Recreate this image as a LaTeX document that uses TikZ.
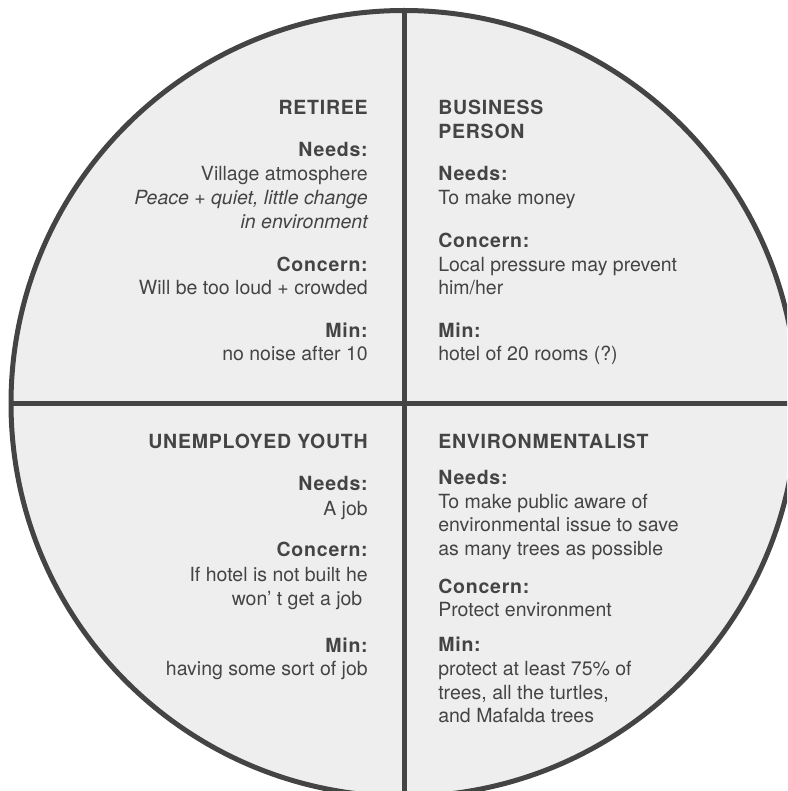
\documentclass[tikz,border=0pt]{standalone}
\usepackage{fontspec}
\setmainfont{TeX Gyre Heros}
% bold labels and headings are set with slightly open tracking
\newfontfamily\trackedfont{TeX Gyre Heros}[LetterSpace=4.0]
\definecolor{ink}{HTML}{444444}
\definecolor{paper}{HTML}{EEEEEE}
\begin{document}
\begin{tikzpicture}[x=1pt,y=-1pt,
  every node/.style={inner sep=0pt, outer sep=0pt, text=ink,
    font=\fontsize{19.5}{24}\selectfont},
  boldtxt/.style={font=\fontsize{19.5}{24}\selectfont\trackedfont\bfseries},
  plaintxt/.style={},
  itxt/.style={font=\fontsize{19.5}{24}\selectfont\itshape},
  divider/.style={draw=ink, line width=5pt}]
\useasboundingbox (0,0) rectangle (787,791);
\clip (0,0) rectangle (787,791);

% the disc and its four quarters
\coordinate (c) at (404,403.5);
\filldraw[fill=paper, divider] (c) circle[radius=393];
\draw[divider] (c) ++(0,-393) coordinate (top) -- ++(0,786) coordinate (bottom);
\draw[divider] (c) ++(-393,0) coordinate (left) -- ++(786,0) coordinate (right);

% upper left: retiree
\foreach \y/\s/\t [count=\i] in {
  114.7/boldtxt/{RETIREE},
  156.7/boldtxt/{Needs:},
  180.7/plaintxt/{Village atmosphere},
  204.3/itxt/{Peace + quiet, little change},
  228.3/itxt/{in environment},
  271.0/boldtxt/{Concern:},
  294.3/plaintxt/{Will be too loud + crowded},
  337.3/boldtxt/{Min:},
  360.3/plaintxt/{no noise after 10}}
  \node[\s, anchor=base east] (ul\i) at (367.7,\y) {\t};

% upper right: business person
\foreach \y/\s/\t [count=\i] in {
  114.7/boldtxt/{BUSINESS},
  138.7/boldtxt/{PERSON},
  180.7/boldtxt/{Needs:},
  205.0/plaintxt/{To make money},
  247.7/boldtxt/{Concern:},
  271.0/plaintxt/{Local pressure may prevent},
  294.3/plaintxt/{him/her},
  337.3/boldtxt/{Min:},
  360.3/plaintxt/{hotel of 20 rooms (?)}}
  \node[\s, anchor=base west] (ur\i) at (438.3,\y) {\t};

% lower left: unemployed youth
\foreach \y/\s/\t [count=\i] in {
  448.3/boldtxt/{UNEMPLOYED YOUTH},
  490.7/boldtxt/{Needs:},
  515.0/plaintxt/{A job},
  556.7/boldtxt/{Concern:},
  581.0/plaintxt/{If hotel is not built he},
  605.0/plaintxt/{won’ t get a job\kern0.278em},
  652.0/boldtxt/{Min:},
  675.5/plaintxt/{having some sort of job}}
  \node[\s, anchor=base east] (ll\i) at (367.7,\y) {\t};

% lower right: environmentalist
\foreach \y/\s/\t [count=\i] in {
  448.3/boldtxt/{ENVIRONMENTALIST},
  484.0/boldtxt/{Needs:},
  508.3/plaintxt/{To make public aware of},
  531.7/plaintxt/{environmental issue to save},
  555.7/plaintxt/{as many trees as possible},
  593.5/boldtxt/{Concern:},
  616.0/plaintxt/{Protect environment},
  651.7/boldtxt/{Min:},
  675.0/plaintxt/{protect at least 75\% of},
  699.0/plaintxt/{trees, all the turtles,},
  722.7/plaintxt/{and Mafalda trees}}
  \node[\s, anchor=base west] (lr\i) at (438.3,\y) {\t};
\end{tikzpicture}
\end{document}
